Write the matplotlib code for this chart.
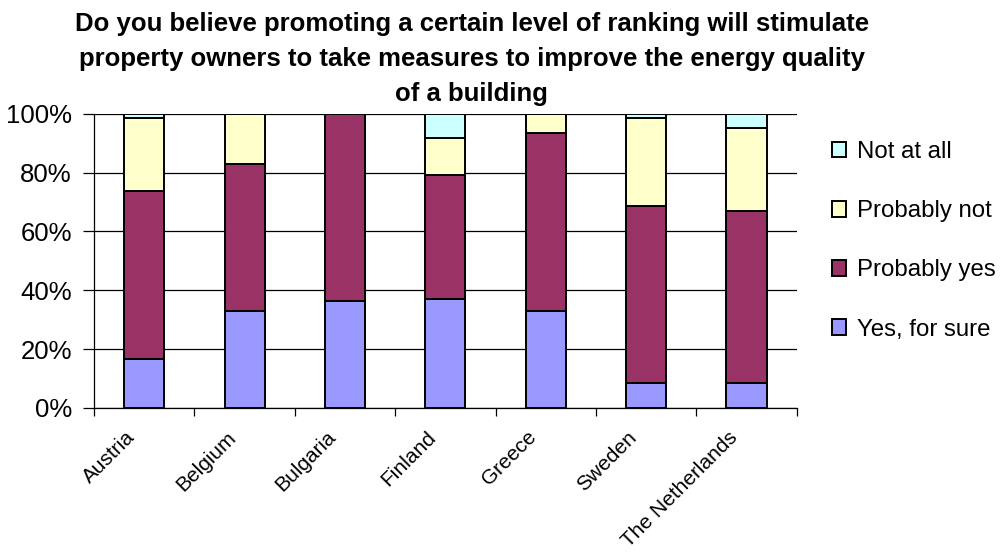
import numpy as np
import matplotlib
matplotlib.use('Agg')
import matplotlib.pyplot as plt
from matplotlib.ticker import FuncFormatter, FixedLocator
from matplotlib.transforms import ScaledTranslation

plt.rcParams['font.family'] = ['Liberation Sans', 'DejaVu Sans']

countries = ['Austria', 'Belgium', 'Bulgaria', 'Finland', 'Greece', 'Sweden', 'The Netherlands']
# share of answers per country, in percent
yes_for_sure = [16.7, 33.0, 36.4, 37.1, 33.0, 8.5, 8.5]
probably_yes = [56.9, 50.0, 63.6, 41.9, 60.3, 60.3, 58.3]
probably_not = [24.9, 17.0, 0.0, 12.7, 6.7, 29.7, 28.3]
not_at_all = [1.5, 0.0, 0.0, 8.3, 0.0, 1.5, 4.9]

series = [
    ('Yes, for sure', yes_for_sure, '#9999FF'),
    ('Probably yes', probably_yes, '#993366'),
    ('Probably not', probably_not, '#FFFFCC'),
    ('Not at all', not_at_all, '#CCFFFF'),
]

fig = plt.figure(figsize=(10.08, 5.52), dpi=100)
ax = fig.add_axes([0.0933, 0.261, 0.697, 0.533])

x = np.arange(len(countries))
bottom = np.zeros(len(countries))
handles = []
for name, vals, col in series:
    vals = np.array(vals)
    bars = ax.bar(x, vals, 0.4, bottom=bottom, color=col, edgecolor='black',
                  linewidth=1.4, label=name, zorder=3)
    handles.append(bars)
    bottom += vals

ax.set_xlim(-0.5, len(countries) - 0.5)
ax.set_ylim(0, 100)
ax.set_yticks(np.arange(0, 101, 20))
ax.yaxis.set_major_formatter(FuncFormatter(lambda v, p: '%d%%' % v))
ax.grid(axis='y', color='black', linewidth=0.9, zorder=0)

# category labels sit on the bars, tick marks go between them
ax.set_xticks(x)
ax.set_xticklabels(countries, rotation=45, ha='right', va='center',
                   rotation_mode='anchor', fontsize=15)
ax.tick_params(axis='x', which='major', length=0, pad=19)
shift = ScaledTranslation(-12 / 100, 0, fig.dpi_scale_trans)
for lab in ax.get_xticklabels():
    lab.set_transform(lab.get_transform() + shift)
ax.xaxis.set_minor_locator(FixedLocator(np.arange(-0.5, len(countries), 1.0)))
ax.tick_params(axis='x', which='minor', length=6, width=0.9, direction='out')
ax.tick_params(axis='y', length=8, width=0.9, labelsize=18.5, pad=8)

for side in ['top', 'right']:
    ax.spines[side].set_visible(False)
ax.spines['left'].set_linewidth(0.9)
ax.spines['bottom'].set_linewidth(0.9)

fig.text(0.468, 0.978,
         'Do you believe promoting a certain level of ranking will stimulate\n'
         'property owners to take measures to improve the energy quality\n'
         'of a building',
         ha='center', va='top', fontsize=18.5, fontweight='bold', linespacing=1.58)

leg = ax.legend(handles[::-1], [s[0] for s in series][::-1], loc='upper left',
                bbox_to_anchor=(1.036, 0.94), frameon=False, fontsize=17.3,
                handlelength=0.62, handleheight=0.62, handletextpad=0.45,
                labelspacing=1.55, borderaxespad=0)

fig.savefig('out.png', dpi=100)
